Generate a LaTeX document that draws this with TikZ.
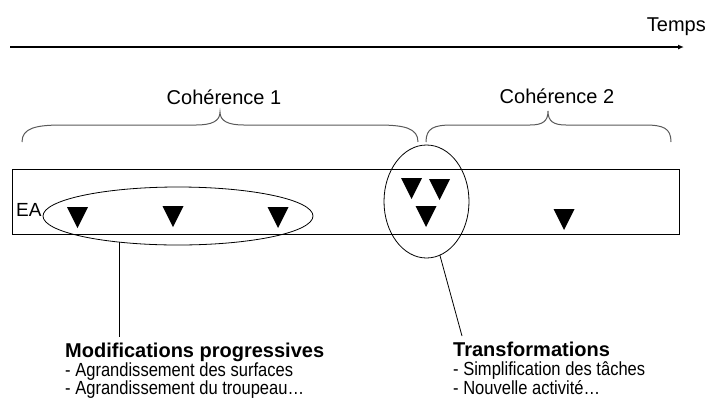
\documentclass[tikz,border=0pt]{standalone}
\usepackage{fontspec}
\setmainfont{Liberation Sans}
\newfontfamily\narrowfont{Liberation Sans}[FakeStretch=0.87]
\usetikzlibrary{shapes.geometric,arrows.meta}
\tikzset{
  lbl/.style={inner sep=0pt, font=\fontsize{20}{24}\selectfont},
  ttl/.style={inner sep=0pt, font=\fontsize{20}{24}\selectfont\bfseries},
  itm/.style={inner sep=0pt, font=\narrowfont\fontsize{19}{22}\selectfont},
  bracepath/.style={draw=black!65, line width=1pt},
  frame/.style={draw=black, line width=0.9pt},
  ring/.style={ellipse, draw=black, line width=0.8pt, inner sep=0pt, outer sep=0pt},
  link/.style={draw=black, line width=0.8pt},
  timeline/.style={draw=black, line width=1.6pt, -{Latex[length=6pt,width=5pt]}},
  tri/.pic={\fill[black] (-10.5,0) -- (10.5,0) -- (0,21) -- cycle;}
}
\begin{document}
\begin{tikzpicture}[x=1pt,y=-1pt]
\useasboundingbox (0,0) rectangle (708,405);
% time axis
\coordinate (t0) at (10,47);
\coordinate (t1) at (684,47);
\draw[timeline] (t0) -- (t1);
\node[lbl, anchor=base east] (temps) at (706,31) {Temps};
% braces
\node[lbl, anchor=base] (c1) at (224,104) {Cohérence 1};
\node[lbl, anchor=base] (c2) at (557,103) {Cohérence 2};
\path[bracepath] (22,142) .. controls (22,128) and (36,125) .. (62,125) -- (196,125)
  .. controls (212,125) and (220,121) .. (220,112)
  .. controls (220,121) and (228,125) .. (244,125) -- (378,125)
  .. controls (404,125) and (418,128) .. (418,142);
\path[bracepath] (426,142) .. controls (426,128) and (434,125) .. (452,125) -- (530,125)
  .. controls (543,125) and (548,121) .. (548,111)
  .. controls (548,121) and (553,125) .. (566,125) -- (645,125)
  .. controls (663,125) and (671,128) .. (671,142);
% farm band
\draw[frame] (12,169) rectangle (679,234);
\node[inner sep=0pt, anchor=base west, font=\fontsize{19}{23}\selectfont] (ea) at (16,216) {EA};
% triangles
\pic at (77.5,207) {tri};
\pic at (173,206) {tri};
\pic at (278,207) {tri};
\pic at (411.5,178) {tri};
\pic at (439.5,179) {tri};
\pic at (426,206) {tri};
\pic at (564,209) {tri};
% ellipses
\node[ring, minimum width=270pt, minimum height=58pt] (e1) at (178,216) {};
\node[ring, minimum width=85pt, minimum height=113pt] (e2) at (426.5,201.5) {};
% bottom texts
\node[ttl, anchor=base west] (mp) at (65,357) {Modifications progressives};
\node[itm, anchor=base west] (mp1) at (65,376) {- Agrandissement des surfaces};
\node[itm, anchor=base west] (mp2) at (65,394) {- Agrandissement du troupeau…};
\node[ttl, anchor=base west] (tr) at (453,356) {Transformations};
\node[itm, anchor=base west] (tr1) at (453,375) {- Simplification des tâches};
\node[itm, anchor=base west] (tr2) at (453,394) {- Nouvelle activité…};
% links
\coordinate (m1) at (121,337);
\coordinate (m2) at (462,336);
\draw[link] (e1.204.8) -- (e1.204.8 |- m1);
\draw[link] (e2.284) -- (m2);
\end{tikzpicture}
\end{document}
